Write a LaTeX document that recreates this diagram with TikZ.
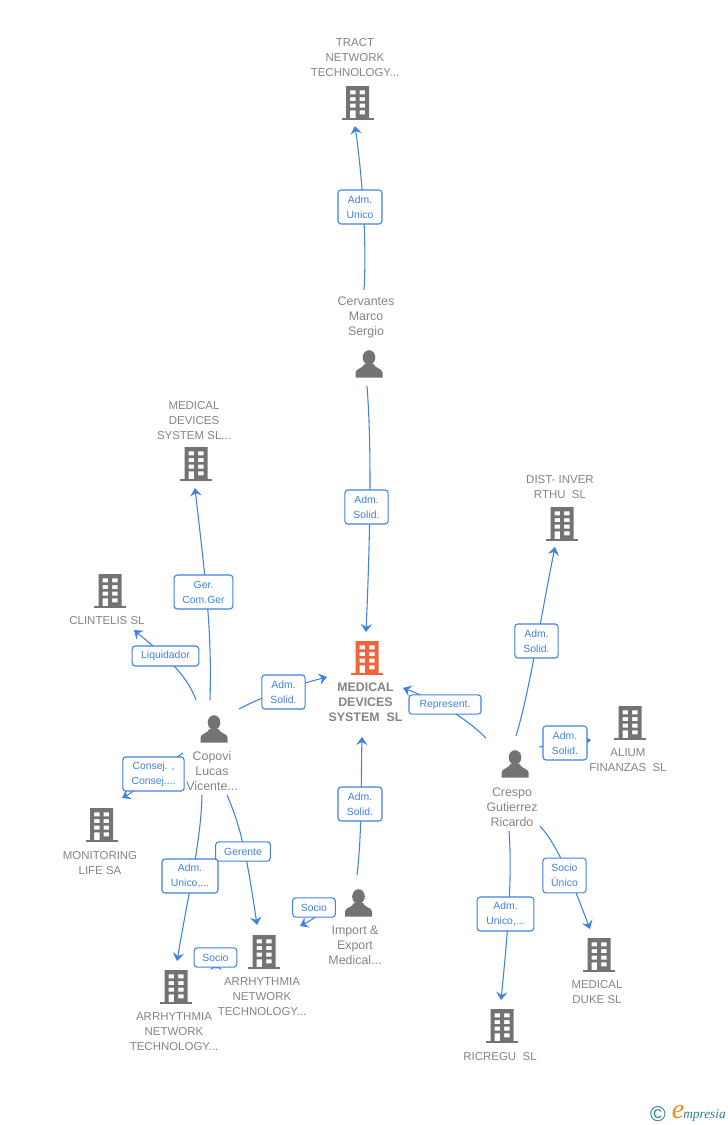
\documentclass[tikz,border=0pt]{standalone}
\usepackage{fontspec}
\setmainfont{Liberation Sans}
\newfontfamily\logofont{Liberation Serif}
\usetikzlibrary{arrows.meta}
\definecolor{txtgray}{HTML}{858585}
\definecolor{icongray}{HTML}{737373}
\definecolor{iconorange}{HTML}{F4643A}
\definecolor{linkblue}{HTML}{3F82E0}
\definecolor{logoteal}{HTML}{2F7F8F}
\definecolor{logoorange}{HTML}{F08A1D}
\tikzset{
  iconbox/.style={minimum width=24pt,minimum height=25pt,inner sep=0pt,outer sep=0pt},
  etext/.style={align=center,text=txtgray,inner sep=0pt,font=\fontsize{8.6}{11.25}\selectfont},
  ptext/.style={align=center,text=txtgray,inner sep=0pt,font=\fontsize{9.3}{11.25}\selectfont},
  mtext/.style={align=center,text=txtgray,inner sep=0pt,font=\fontsize{9.3}{11.25}\selectfont\bfseries},
  conn/.style={draw=linkblue,line width=.8pt,-{Stealth[length=6pt,width=8.5pt,inset=2.2pt]}},
  lab/.style={draw=linkblue,fill=white,line width=.8pt,rounded corners=2.3pt,align=center,inner sep=0pt,
    text=linkblue,font=\fontsize{7.8}{11.25}\selectfont},
}
\newcommand{\bldg}[4]{%
  \node[iconbox] (#1) at (#2,#3) {};
  \begin{scope}[shift={(#2,#3)}]
    \fill[#4] (-16,15.3) rectangle (16,17);
    \fill[#4,even odd rule] (-11.5,-17) rectangle (11.5,15.5)
      (-7.5,-12.7) rectangle (-2,-8.7) (2,-12.7) rectangle (7.5,-8.7)
      (-7.5,-6) rectangle (-2,-2) (2,-6) rectangle (7.5,-2)
      (-7.5,0.7) rectangle (-2,4.7) (2,0.7) rectangle (7.5,4.7)
      (-7.5,7.3) rectangle (-2,15.4) (2,7.3) rectangle (7.5,11.3);
  \end{scope}}
\newcommand{\pers}[3]{%
  \node[iconbox] (#1) at (#2,#3) {};
  \begin{scope}[shift={(#2,#3)}]
    \fill[icongray] (0,-6.5) ellipse (6.3 and 7.3);
    \fill[icongray] (-13.5,13.5) -- (-13.5,8.5) .. controls (-13.5,4.5) and (-6,4.5) .. (-4.5,0)
      -- (4.5,0) .. controls (6,4.5) and (13.5,4.5) .. (13.5,8.5) -- (13.5,13.5) -- cycle;
  \end{scope}}
\begin{document}
\begin{tikzpicture}[x=.75pt,y=-.75pt]
\useasboundingbox (0,0) rectangle (728,1125);
\fill[white] (0,0) rectangle (728,1125);

% icons
\bldg{tract}{357.5}{103}{icongray}
\bldg{medsl}{196}{464}{icongray}
\bldg{dist}{562}{524}{icongray}
\bldg{clin}{110}{591}{icongray}
\bldg{main}{367}{658}{iconorange}
\bldg{alium}{630}{723}{icongray}
\bldg{moni}{101.5}{825}{icongray}
\bldg{arrone}{264}{952}{icongray}
\bldg{arrtwo}{176}{987}{icongray}
\bldg{duke}{599}{955}{icongray}
\bldg{ricr}{502}{1026}{icongray}
\pers{cerv}{369}{364}
\pers{copo}{214}{729}
\pers{impo}{358.5}{903}
\pers{cres}{515}{764}

% entity texts
\node[etext] (tract-t) at (355,58) {TRACT\\NETWORK\\TECHNOLOGY...};
\node[ptext] (cerv-t) at (366,317) {Cervantes\\Marco\\Sergio};
\node[etext] (medsl-t) at (194,420.5) {MEDICAL\\DEVICES\\SYSTEM SL...};
\node[etext] (dist-t) at (560,487.5) {DIST- INVER\\RTHU\ \ SL};
\node[etext] (clin-t) at (107,620.5) {CLINTELIS SL};
\node[mtext] (main-t) at (365.5,702) {MEDICAL\\DEVICES\\SYSTEM\ \ SL};
\node[ptext] (copo-t) at (212,771) {Copovi\\Lucas\\Vicente...};
\node[etext] (alium-t) at (628,760) {ALIUM\\FINANZAS\ \ SL};
\node[ptext] (cres-t) at (512,807) {Crespo\\Gutierrez\\Ricardo};
\node[etext] (moni-t) at (100,863) {MONITORING\\LIFE SA};
\node[ptext] (impo-t) at (355,945) {Import \&\\Export\\Medical...};
\node[etext] (arrone-t) at (262,996.5) {ARRHYTHMIA\\NETWORK\\TECHNOLOGY...};
\node[etext] (arrtwo-t) at (174,1031.5) {ARRHYTHMIA\\NETWORK\\TECHNOLOGY...};
\node[etext] (duke-t) at (597,992) {MEDICAL\\DUKE SL};
\node[etext] (ricr-t) at (500,1056.5) {RICREGU\ \ SL};

% connectors
\draw[conn] ([shift={(-5,-74)}]cerv.center) .. controls (367,240) and (362,175) .. ([shift={(-2.5,23)}]tract.center);
\draw[conn] ([shift={(-2,22)}]cerv.center) .. controls (372,450) and (370,540) .. ([shift={(-1,-26)}]main.center);
\draw[conn] ([shift={(-4,-29)}]copo.center) .. controls (212,630) and (206,585) .. ([shift={(-1,24)}]medsl.center);
\draw[conn] ([shift={(-18,-29)}]copo.center) .. controls (186,672) and (160,652) .. ([shift={(24,39)}]clin.center);
\draw[conn] ([shift={(25,-20)}]copo.center) .. controls (265,695) and (300,684) .. ([shift={(-40,19)}]main.center);
\draw[conn] ([shift={(-31,24)}]copo.center) .. controls (165,765) and (140,788) .. ([shift={(20.5,-27)}]moni.center);
\draw[conn] ([shift={(-12,66)}]copo.center) .. controls (201,840) and (190,885) .. ([shift={(1,-26)}]arrtwo.center);
\draw[conn] ([shift={(13,66)}]copo.center) .. controls (240,825) and (246,850) .. ([shift={(-7,-27)}]arrone.center);
\draw[conn] ([shift={(-44,10)}]arrone.center) .. controls (216,966) and (216,970) .. ([shift={(40,-25)}]arrtwo.center);
\draw[conn] ([shift={(-1.5,-28)}]impo.center) .. controls (362,835) and (361,780) .. ([shift={(-5,79)}]main.center);
\draw[conn] ([shift={(-33.5,7)}]impo.center) .. controls (320,914) and (310,921) .. ([shift={(36,-26)}]arrone.center);
\draw[conn] ([shift={(-29,-26)}]cres.center) .. controls (468,720) and (440,702) .. ([shift={(36,30)}]main.center);
\draw[conn] ([shift={(1,-28)}]cres.center) .. controls (530,690) and (542,610) .. ([shift={(-7,23)}]dist.center);
\draw[conn] ([shift={(24,-17)}]cres.center) .. controls (555,745) and (575,742) .. ([shift={(-39,17)}]alium.center);
\draw[conn] ([shift={(25,62)}]cres.center) .. controls (560,848) and (575,890) .. ([shift={(-9,-26)}]duke.center);
\draw[conn] ([shift={(-6,67)}]cres.center) .. controls (513,880) and (506,950) .. ([shift={(-1,-26)}]ricr.center);

% connector labels
\node[lab,minimum width=33pt,minimum height=25.5pt] (l1) at (360,207) {Adm.\\Unico};
\node[lab,minimum width=32.5pt,minimum height=25.5pt] (l2) at (366.5,507) {Adm.\\Solid.};
\node[lab,minimum width=44pt,minimum height=25.5pt] (l3) at (203.5,592) {Ger.\\Com.Ger};
\node[lab,minimum width=50pt,minimum height=15pt] (l4) at (165.5,656) {Liquidador};
\node[lab,minimum width=32.5pt,minimum height=25.5pt] (l5) at (283.5,692) {Adm.\\Solid.};
\node[lab,minimum width=46pt,minimum height=25.5pt] (l6) at (153.5,774) {Consej. ,\\Consej....};
\node[lab,minimum width=41pt,minimum height=14.5pt] (l7) at (243,851.5) {Gerente};
\node[lab,minimum width=42pt,minimum height=25.5pt] (l8) at (190,876) {Adm.\\Unico,...};
\node[lab,minimum width=32pt,minimum height=14.5pt] (l9) at (314,907.5) {Socio};
\node[lab,minimum width=32pt,minimum height=14.5pt] (l10) at (215.5,957.5) {Socio};
\node[lab,minimum width=33pt,minimum height=25.5pt] (l11) at (360,804) {Adm.\\Solid.};
\node[lab,minimum width=54pt,minimum height=14.5pt] (l12) at (445,704.5) {Represent.};
\node[lab,minimum width=32.5pt,minimum height=25.5pt] (l13) at (536.5,641) {Adm.\\Solid.};
\node[lab,minimum width=33pt,minimum height=25.5pt] (l14) at (565,743) {Adm.\\Solid.};
\node[lab,minimum width=32.5pt,minimum height=26pt] (l15) at (564.5,875.5) {Socio\\Único};
\node[lab,minimum width=42.5pt,minimum height=25.5pt] (l16) at (505.5,914) {Adm.\\Unico,...};

% logo
\node[inner sep=0pt,text=logoteal,font=\fontsize{16}{16}\selectfont] (logoc) at (658,1114) {©};
\node[inner sep=0pt,text=logoorange,font=\logofont\itshape\fontsize{21}{21}\selectfont] (logoe) at (678,1112) {e};
\node[inner sep=0pt,anchor=base west,text=logoteal,font=\logofont\itshape\fontsize{10}{12}\selectfont] (logow) at (683,1118) {mpresia};
\end{tikzpicture}
\end{document}
